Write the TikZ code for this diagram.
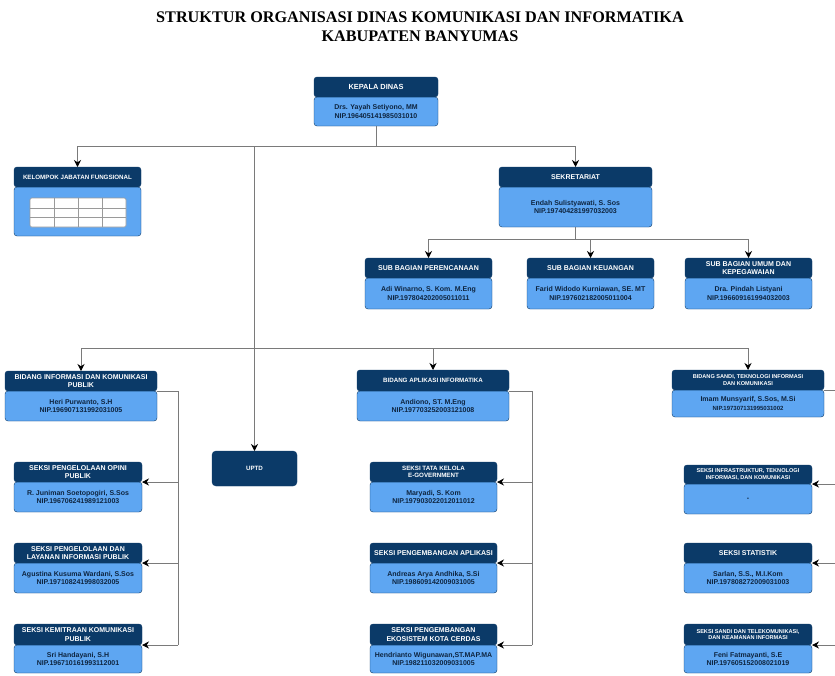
\documentclass[tikz,border=0pt]{standalone}
\usepackage{fontspec}
\setmainfont{Liberation Sans}
\newfontfamily\timesf{Liberation Serif}
\usetikzlibrary{arrows.meta}
\definecolor{navy}{HTML}{0B3A68}
\definecolor{lblue}{HTML}{5EA6F2}
\definecolor{btext}{HTML}{0E2540}
\definecolor{connc}{HTML}{7A7A7A}
\definecolor{gridc}{HTML}{9A9A9A}
\tikzset{
 hdr/.style={draw=navy, fill=navy, rounded corners=3pt, inner sep=0pt, outer sep=0pt, anchor=north west, align=center, text=white},
 bdy/.style={draw=navy, fill=lblue, rounded corners=3pt, inner sep=0pt, outer sep=0pt, anchor=north west, align=center, text=btext, font=\bfseries\fontsize{7}{8.8}\selectfont},
 conn/.style={draw=connc, line width=0.9pt},
 arr/.style={conn, -{Stealth[length=7pt,width=7pt,color=black]}},
}
% name, x1, ytop, x2, yhead, ybottom, headfont, header, body
\newcommand\obox[9]{%
 \node[bdy, minimum width={(#4-#2)*1pt}, minimum height={(#6-#5)*1pt}] (#1-b) at (#2,#5) {#9};
 \node[hdr, minimum width={(#4-#2)*1pt}, minimum height={(#5-#3)*1pt}, font=\bfseries#7] (#1-h) at (#2,#3) {#8};
}
\newcommand\hfa{\fontsize{7}{8.2}\selectfont}
\newcommand\hfb{\fontsize{6.2}{7.4}\selectfont}
\newcommand\hfc{\fontsize{5.6}{6.8}\selectfont}
\begin{document}
\begin{tikzpicture}[x=1pt,y=-1pt]
\useasboundingbox (0,0) rectangle (835,675);
\fill[white] (0,0) rectangle (835,675);
\node[font=\timesf\bfseries\fontsize{16.2}{19}\selectfont, align=center] (title) at (420,26.5)
 {STRUKTUR ORGANISASI DINAS KOMUNIKASI DAN INFORMATIKA\\KABUPATEN BANYUMAS};

% top level
\obox{kd}{314}{77}{438}{97}{126}{\fontsize{7.4}{8.4}\selectfont}{KEPALA DINAS}{Drs. Yayah Setiyono, MM\\NIP.196405141985031010}
\obox{kjf}{14}{167}{141}{187}{236}{\hfb}{KELOMPOK JABATAN FUNGSIONAL}{}
\obox{sek}{499}{167}{652}{187}{227}{\hfa}{SEKRETARIAT}{Endah Sulistyawati, S. Sos\\NIP.197404281997032003}

% table inside kelompok
\filldraw[fill=white, draw=gridc, line width=0.6pt, rounded corners=1.5pt] (30,198) rectangle (126,227);
\draw[gridc, line width=0.6pt] (30,208) -- (126,208) (30,217) -- (126,217)
 (54,198) -- (54,227) (78,198) -- (78,227) (102,198) -- (102,227);

% sub bagian
\obox{sb1}{365}{258}{492}{278}{309}{\hfa}{SUB BAGIAN PERENCANAAN}{Adi Winarno, S. Kom. M.Eng\\NIP.197804202005011011}
\obox{sb2}{527}{258}{654}{278}{309}{\hfa}{SUB BAGIAN KEUANGAN}{Farid Widodo Kurniawan, SE. MT\\NIP.197602182005011004}
\obox{sb3}{685}{258}{812}{278}{309}{\hfa}{SUB BAGIAN UMUM DAN\\KEPEGAWAIAN}{Dra. Pindah Listyani\\NIP.196609161994032003}

% bidang
\obox{b1}{5}{371}{157}{391}{421}{\hfa}{BIDANG INFORMASI DAN KOMUNIKASI\\PUBLIK}{Heri Purwanto, S.H\\NIP.196907131992031005}
\obox{b2}{357}{370}{509}{391}{421}{\hfb}{BIDANG APLIKASI INFORMATIKA}{Andiono, ST. M.Eng\\NIP.197703252003121008}
\obox{b3}{672}{370}{824}{390}{417}{\hfc}{BIDANG SANDI, TEKNOLOGI INFORMASI\\DAN KOMUNIKASI}{Imam Munsyarif, S.Sos, M.Si\\{\fontsize{6}{7}\selectfont NIP.197307131995031002}}

\node[hdr, rounded corners=4pt, minimum width=85pt, minimum height=35pt, font=\bfseries\fontsize{6.2}{7}\selectfont] (uptd) at (212,451) {UPTD};

% seksi left
\obox{s11}{14}{462}{142}{482}{512}{\hfa}{SEKSI PENGELOLAAN OPINI\\PUBLIK}{R. Juniman Soetopogiri, S.Sos\\NIP.196706241989121003}
\obox{s12}{14}{543}{142}{563}{593}{\hfa}{SEKSI PENGELOLAAN DAN\\LAYANAN INFORMASI PUBLIK}{Agustina Kusuma Wardani, S.Sos\\NIP.197108241998032005}
\obox{s13}{14}{624}{142}{645}{673}{\hfa}{SEKSI KEMITRAAN KOMUNIKASI\\PUBLIK}{Sri Handayani, S.H\\NIP.196710161993112001}
% seksi middle
\obox{s21}{370}{462}{497}{482}{512}{\hfb}{SEKSI TATA KELOLA\\E-GOVERNMENT}{Maryadi, S. Kom\\NIP.197903022012011012}
\obox{s22}{370}{543}{497}{563}{593}{\hfa}{SEKSI PENGEMBANGAN APLIKASI}{Andreas Arya Andhika, S.Si\\NIP.198609142009031005}
\obox{s23}{370}{624}{497}{645}{673}{\hfa}{SEKSI PENGEMBANGAN\\EKOSISTEM KOTA CERDAS}{Hendrianto Wigunawan,ST.MAP.MA\\NIP.198211032009031005}
% seksi right
\obox{s31}{684}{465}{812}{484}{514}{\hfc}{SEKSI INFRASTRUKTUR, TEKNOLOGI\\INFORMASI, DAN KOMUNIKASI}{-}
\obox{s32}{684}{543}{812}{563}{593}{\hfa}{SEKSI STATISTIK}{Sarlan, S.S., M.I.Kom\\NIP.197808272009031003}
\obox{s33}{684}{624}{812}{645}{673}{\hfc}{SEKSI SANDI DAN TELEKOMUNIKASI,\\DAN KEAMANAN INFORMASI}{Feni Fatmayanti, S.E\\NIP.197605152008021019}

% connectors
\coordinate (j1) at (376,146);
\coordinate (j2) at (253,348);
\coordinate (j3) at (576,239);
\coordinate (v1) at (178,0);
\coordinate (v2) at (532,0);
\coordinate (rx) at (835,0);
\draw[conn] (kd-b.south) -- (j1);
\draw[arr] (j1) -| (kjf-h.north);
\draw[arr] (j1) -| (sek-h.north);
\draw[arr] (uptd.north |- j1) -- (uptd.north);
\draw[arr] (j2) -| (b1-h.north);
\draw[arr] (j2) -| (b2-h.north);
\draw[arr] (j2) -| (b3-h.north);
\draw[conn] (sek-b.south) -- (sek-b.south |- j3);
\draw[arr] (sek-b.south |- j3) -| (sb1-h.north);
\draw[arr] (sek-b.south |- j3) -| (sb2-h.north);
\draw[arr] (sek-b.south |- j3) -| (sb3-h.north);

\draw[conn] (b1-h.south east) -- (v1 |- b1-h.south east) -- (v1 |- s13-h.south east);
\draw[arr] (v1 |- s11-h.south east) -- (s11-h.south east);
\draw[arr] (v1 |- s12-h.south east) -- (s12-h.south east);
\draw[arr] (v1 |- s13-h.south east) -- (s13-h.south east);

\draw[conn] (b2-h.south east) -- (v2 |- b2-h.south east) -- (v2 |- s23-h.south east);
\draw[arr] (v2 |- s21-h.south east) -- (s21-h.south east);
\draw[arr] (v2 |- s22-h.south east) -- (s22-h.south east);
\draw[arr] (v2 |- s23-h.south east) -- (s23-h.south east);

\draw[conn] (b3-h.south east) -- (rx |- b3-h.south east);
\draw[arr] (rx |- s31-h.south east) -- (s31-h.south east);
\draw[arr] (rx |- s32-h.south east) -- (s32-h.south east);
\draw[arr] (rx |- s33-h.south east) -- (s33-h.south east);
\end{tikzpicture}
\end{document}
